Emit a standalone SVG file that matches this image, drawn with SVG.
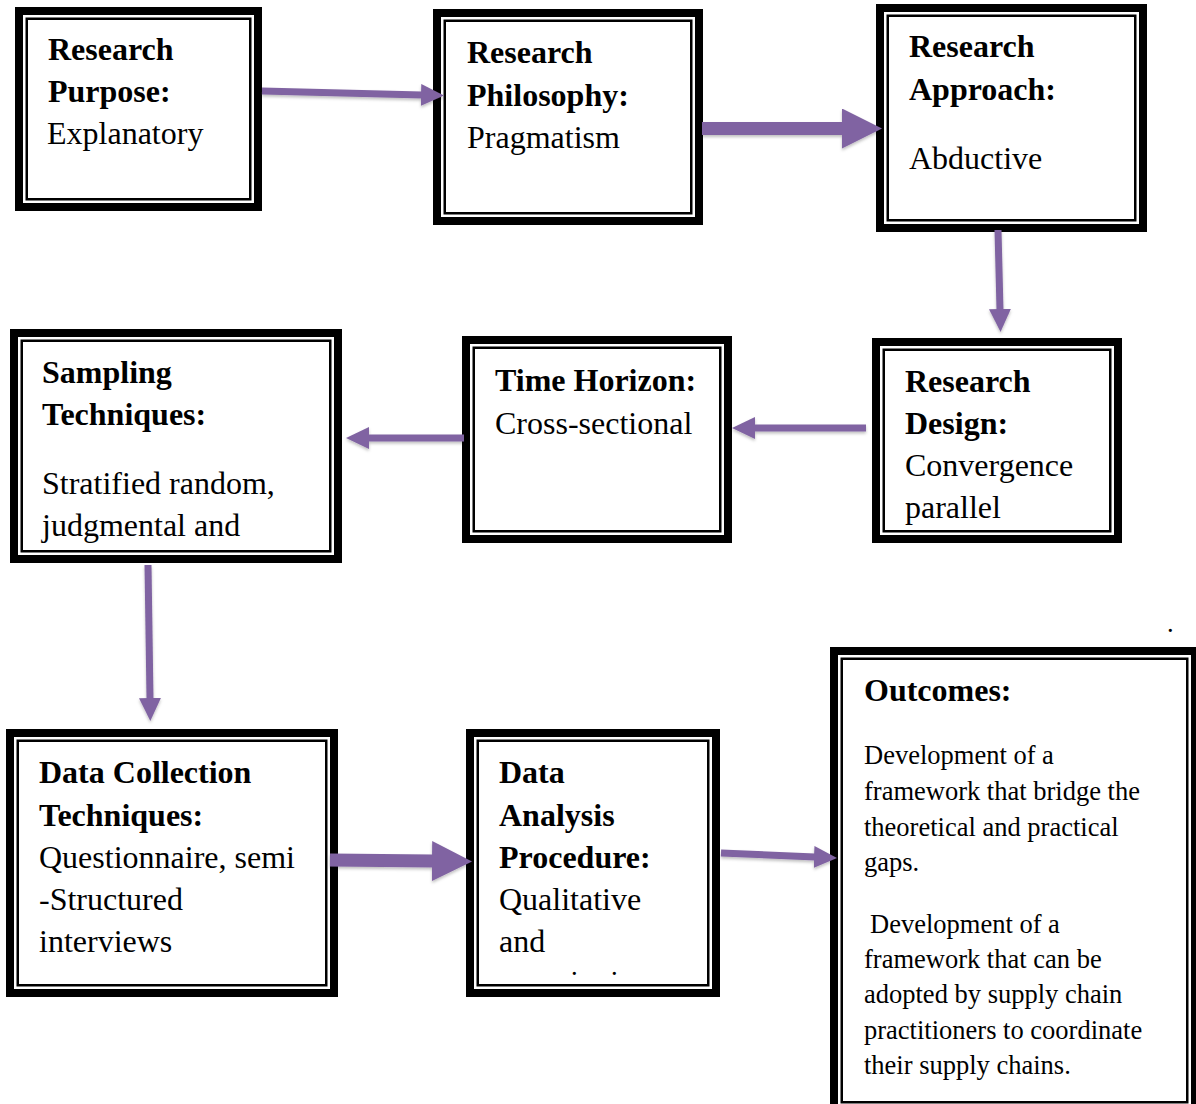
<svg xmlns="http://www.w3.org/2000/svg" width="1196" height="1104" viewBox="0 0 1196 1104">
  <style>
    .frame-outer { fill: #ffffff; stroke: #000000; stroke-width: 8; }
    .frame-inner { fill: none; stroke: #000000; stroke-width: 2.5; }
    .h { font-family: "Liberation Serif", "Times New Roman", serif; font-weight: bold; font-size: 32px; fill: #000000; }
    .t { font-family: "Liberation Serif", "Times New Roman", serif; font-size: 32px; fill: #000000; }
    .s { font-family: "Liberation Serif", "Times New Roman", serif; font-size: 26.5px; fill: #000000; }
    .thin { stroke: #8064A2; stroke-width: 7; fill: none; marker-end: url(#headThin); }
    .thick { stroke: #8064A2; stroke-width: 13; fill: none; marker-end: url(#headThick); }
  </style>
  <defs>
    <marker id="headThin" viewBox="0 0 23 22" markerWidth="23" markerHeight="22" refX="1" refY="11" orient="auto" markerUnits="userSpaceOnUse">
      <path d="M0,0 L23,11 L0,22 Z" fill="#8064A2"/>
    </marker>
    <marker id="headThick" viewBox="0 0 40 40" markerWidth="40" markerHeight="40" refX="1" refY="20" orient="auto" markerUnits="userSpaceOnUse">
      <path d="M0,0 L40,20 L0,40 Z" fill="#8064A2"/>
    </marker>
    <filter id="softShadow" x="-10%" y="-50%" width="120%" height="200%">
      <feDropShadow dx="0" dy="2" stdDeviation="1.5" flood-color="#000000" flood-opacity="0.25"/>
    </filter>
  </defs>

  <rect x="0" y="0" width="1196" height="1104" fill="#ffffff"/>

  <!-- Research Purpose -->
  <g id="research-purpose">
    <rect class="frame-outer" x="19" y="11" width="239" height="196"/>
    <rect class="frame-inner" x="26.75" y="18.75" width="223.5" height="180.5"/>
    <text class="h" x="48" y="60">Research</text>
    <text class="h" x="48" y="102">Purpose:</text>
    <text class="t" x="47" y="144">Explanatory</text>
  </g>

  <!-- Research Philosophy -->
  <g id="research-philosophy">
    <rect class="frame-outer" x="437" y="13" width="262" height="208"/>
    <rect class="frame-inner" x="444.75" y="20.75" width="246.5" height="192.5"/>
    <text class="h" x="467" y="63">Research</text>
    <text class="h" x="467" y="106">Philosophy:</text>
    <text class="t" x="467" y="148">Pragmatism</text>
  </g>

  <!-- Research Approach -->
  <g id="research-approach">
    <rect class="frame-outer" x="880" y="8" width="263" height="220"/>
    <rect class="frame-inner" x="887.75" y="15.75" width="247.5" height="204.5"/>
    <text class="h" x="909" y="57">Research</text>
    <text class="h" x="909" y="100">Approach:</text>
    <text class="t" x="909" y="169">Abductive</text>
  </g>

  <!-- Sampling Techniques -->
  <g id="sampling-techniques">
    <rect class="frame-outer" x="14" y="333" width="324" height="226"/>
    <rect class="frame-inner" x="21.75" y="340.75" width="308.5" height="210.5"/>
    <text class="h" x="42" y="383">Sampling</text>
    <text class="h" x="42" y="425">Techniques:</text>
    <text class="t" x="42" y="494">Stratified random,</text>
    <text class="t" x="42" y="536">judgmental and</text>
  </g>

  <!-- Time Horizon -->
  <g id="time-horizon">
    <rect class="frame-outer" x="466" y="340" width="262" height="199"/>
    <rect class="frame-inner" x="473.75" y="347.75" width="246.5" height="183.5"/>
    <text class="h" x="495" y="391">Time Horizon:</text>
    <text class="t" x="495" y="434">Cross-sectional</text>
  </g>

  <!-- Research Design -->
  <g id="research-design">
    <rect class="frame-outer" x="876" y="342" width="242" height="197"/>
    <rect class="frame-inner" x="883.75" y="349.75" width="226.5" height="181.5"/>
    <text class="h" x="905" y="392">Research</text>
    <text class="h" x="905" y="434">Design:</text>
    <text class="t" x="905" y="476">Convergence</text>
    <text class="t" x="905" y="518">parallel</text>
  </g>

  <!-- Data Collection Techniques -->
  <g id="data-collection">
    <rect class="frame-outer" x="10" y="733" width="324" height="260"/>
    <rect class="frame-inner" x="17.75" y="740.75" width="308.5" height="244.5"/>
    <text class="h" x="39" y="783">Data Collection</text>
    <text class="h" x="39" y="826">Techniques:</text>
    <text class="t" x="39" y="868">Questionnaire, semi</text>
    <text class="t" x="39" y="910">-Structured</text>
    <text class="t" x="39" y="952">interviews</text>
  </g>

  <!-- Data Analysis Procedure -->
  <g id="data-analysis">
    <rect class="frame-outer" x="470" y="733" width="246" height="260"/>
    <rect class="frame-inner" x="477.75" y="740.75" width="230.5" height="244.5"/>
    <text class="h" x="499" y="783">Data</text>
    <text class="h" x="499" y="826">Analysis</text>
    <text class="h" x="499" y="868">Procedure:</text>
    <text class="t" x="499" y="910">Qualitative</text>
    <text class="t" x="499" y="952">and</text>
    <text class="s" x="571" y="975">.</text>
    <text class="s" x="611" y="975">.</text>
  </g>

  <!-- Outcomes -->
  <g id="outcomes">
    <rect class="frame-outer" x="834" y="651" width="361" height="459"/>
    <rect class="frame-inner" x="841.75" y="658.75" width="345.5" height="443.5"/>
    <text class="h" x="864" y="701">Outcomes:</text>
    <text class="s" x="864" y="764">Development of a</text>
    <text class="s" x="864" y="800">framework that bridge the</text>
    <text class="s" x="864" y="836">theoretical and practical</text>
    <text class="s" x="864" y="871">gaps.</text>
    <text class="s" x="870" y="933">Development of a</text>
    <text class="s" x="864" y="968">framework that can be</text>
    <text class="s" x="864" y="1003">adopted by supply chain</text>
    <text class="s" x="864" y="1039">practitioners to coordinate</text>
    <text class="s" x="864" y="1074">their supply chains.</text>
  </g>

  <text class="s" x="1167" y="632">.</text>

  <!-- Connectors -->
  <g id="connectors" filter="url(#softShadow)">
    <line class="thin" x1="262" y1="91" x2="422" y2="95"/>
    <line class="thick" x1="702" y1="128.5" x2="843" y2="128.5"/>
    <line class="thin" x1="998" y1="230" x2="1000" y2="310"/>
    <line class="thin" x1="866" y1="428" x2="754" y2="428"/>
    <line class="thin" x1="464" y1="438" x2="368" y2="438"/>
    <line class="thin" x1="148" y1="565" x2="150" y2="699"/>
    <line class="thick" x1="330" y1="860" x2="433" y2="861"/>
    <line class="thin" x1="721" y1="853" x2="815" y2="857"/>
  </g>
</svg>
